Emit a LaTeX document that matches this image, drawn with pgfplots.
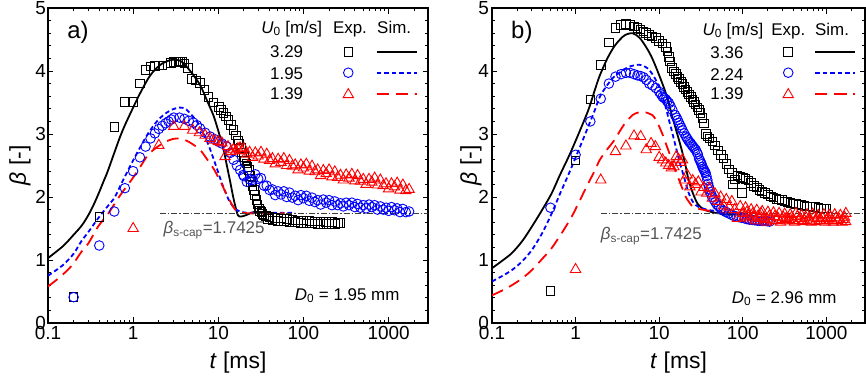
\documentclass[border=0pt]{standalone}
\usepackage{fontspec}
\setmainfont{Liberation Sans}
\usepackage{pgfplots}
\pgfplotsset{compat=1.18}

\definecolor{myblue}{RGB}{0,0,255}
\definecolor{myred}{RGB}{255,0,0}
\definecolor{dashgray}{RGB}{60,60,60}
\definecolor{capgray}{RGB}{85,85,85}
\newcommand{\legfont}{\fontsize{17}{20}\selectfont}

\pgfplotsset{
 myexpsq/.style={only marks, mark=square, mark size=4.3bp, black, line width=0.9bp},
 myexpci/.style={only marks, mark=o, mark size=4.8bp, myblue, line width=0.9bp},
 myexptr/.style={only marks, mark=triangle, mark size=6bp, myred, line width=0.9bp},
 mysimk/.style={black, line width=1.8bp, no marks, smooth},
 mysimb/.style={myblue, line width=1.8bp, dash pattern=on 4.5bp off 3bp, no marks, smooth},
 mysimr/.style={myred, line width=1.8bp, dash pattern=on 12bp off 7bp, no marks, smooth},
 mycapline/.style={dashgray, line width=1bp, dash pattern=on 6bp off 2bp on 1.5bp off 2bp, no marks},
}

\begin{document}
\begin{tikzpicture}
\path[use as bounding box] (0,0) rectangle (866bp,376bp);

% ---------------- panel a ----------------
\begin{axis}[at={(48bp,53bp)}, anchor=south west, width=380bp,
   scale only axis, height=315bp,
   xmode=log, xmin=0.1, xmax=2900, ymin=0, ymax=5,
   xtick={0.1,1,10,100,1000}, xticklabels={0.1,1,10,100,1000},
   minor xtick={0.2,0.3,0.4,0.5,0.6,0.7,0.8,0.9,2,3,4,5,6,7,8,9,20,30,40,50,60,70,80,90,200,300,400,500,600,700,800,900,2000},
   ytick={0,1,2,3,4,5}, minor y tick num=4,
   tick align=inside, major tick length=5.5bp, minor tick length=3bp,
   axis line style={line width=1.2bp},
   every tick/.append style={line width=0.9bp, black},
   tick label style={font=\fontsize{19}{22}\selectfont},
   yticklabel style={/pgf/number format/assume math mode=true, inner xsep=2bp},
   xlabel={\textit{t} [ms]}, ylabel={\textit{β} [-]},
   label style={font=\fontsize{23}{27}\selectfont},
   xlabel style={at={(axis description cs:0.5,0)}, anchor=base, yshift=-45bp},
   ylabel style={at={([xshift=-28bp]axis description cs:0,0.5)}, anchor=center}]

\addplot[myexpsq] coordinates {(0.2,0.41)(0.4,1.68)(0.6,3.11)(0.8,3.51)(1.0,3.51)(1.2,3.80)(1.4,4.02)(1.6,4.07)(1.8,4.08)(2.0,4.09)(2.2,4.09)(2.8,4.13)(3.0,4.14)(3.2,4.14)(3.4,4.15)(3.6,4.15)(3.8,4.14)(4.0,4.12)(4.4,4.05)(4.9,3.87)(5.5,3.85)(6.1,3.81)(6.9,3.70)(7.7,3.59)(8.8,3.50)(10.1,3.43)(10.8,3.38)(11.5,3.33)(12.3,3.28)(13.2,3.22)(14.1,3.14)(15.1,3.06)(16,2.98)(16.9,2.90)(17.6,2.84)(18.4,2.78)(19.1,2.71)(19.9,2.64)(20.6,2.58)(21.3,2.53)(22,2.48)(22.8,2.43)(23.5,2.33)(24.3,2.24)(25.1,2.18)(26,2.11)(27,2.03)(28,1.95)(28.9,1.88)(29.8,1.82)(31,1.78)(32,1.76)(33,1.73)(34.1,1.71)(36,1.70)(38,1.65)(40,1.68)(43.2,1.63)(46.6,1.67)(50.4,1.62)(54.4,1.66)(58.8,1.61)(63.5,1.65)(68.5,1.60)(74,1.64)(80,1.60)(86.4,1.63)(93.3,1.59)(100,1.63)(108,1.58)(117,1.62)(126,1.58)(136,1.61)(147,1.57)(159,1.61)(171,1.57)(185,1.60)(200,1.57)(216,1.60)(233,1.57)(252,1.59)(272,1.59)};

\addplot[myexpci] coordinates {(0.2,0.41)(0.4,1.23)(0.6,1.77)(0.8,2.14)(1.0,2.41)(1.2,2.63)(1.4,2.80)(1.6,2.93)(1.8,3.01)(2.0,3.08)(2.2,3.13)(2.4,3.17)(2.6,3.20)(2.8,3.23)(3.0,3.26)(3.5,3.26)(4.0,3.24)(4.5,3.21)(5.1,3.18)(5.6,3.14)(6.1,3.09)(7,3.02)(8,2.96)(9,2.92)(10,2.88)(11,2.85)(12.6,2.80)(13.8,2.70)(15.1,2.59)(16.5,2.50)(18,2.43)(19.6,2.35)(20,2.33)(21.6,2.24)(23.3,2.28)(25.2,2.27)(27.2,2.36)(29.4,2.29)(31.7,2.30)(34.3,2.18)(37,2.18)(40,2.11)(43.2,2.12)(46.6,2.03)(50.4,2.09)(54.4,2.04)(58.8,2.09)(63.5,2.00)(68.5,2.07)(74,1.99)(80,2.02)(86.4,1.95)(93.3,2.03)(100,1.98)(108,2.02)(117,1.94)(126,1.99)(136,1.92)(147,1.95)(159,1.88)(171,1.96)(185,1.91)(200,1.95)(216,1.87)(233,1.93)(252,1.87)(272,1.90)(294,1.85)(317,1.91)(343,1.87)(370,1.91)(400,1.84)(432,1.89)(466,1.83)(504,1.87)(544,1.82)(588,1.88)(635,1.84)(685,1.87)(740,1.80)(800,1.85)(864,1.80)(933,1.83)(1000,1.78)(1080,1.84)(1170,1.79)(1260,1.82)(1360,1.76)(1470,1.81)(1590,1.76)(1740,1.77)};

\addplot[myexptr] coordinates {(1,1.50)(2,2.82)(3,3.12)(4,3.12)(5,3.06)(6,3.02)(7,2.98)(8,2.93)(9,2.90)(10,2.88)(11,2.86)(12,2.64)(13,2.80)(14,2.72)(15,2.75)(16,2.73)(17,2.77)(18,2.78)(19,2.74)(20,2.77)(21.6,2.68)(23.3,2.71)(25.2,2.63)(27.2,2.70)(29.4,2.65)(31.7,2.71)(34.3,2.60)(37,2.68)(40,2.58)(43.2,2.61)(46.6,2.525)(50.4,2.60)(54.4,2.55)(58.8,2.61)(63.5,2.50)(68.5,2.58)(74,2.49)(80,2.51)(86.4,2.43)(93.3,2.51)(100,2.46)(108,2.52)(117,2.41)(126,2.49)(136,2.40)(147,2.43)(159,2.34)(171,2.42)(185,2.37)(200,2.43)(216,2.32)(233,2.40)(252,2.31)(272,2.345)(294,2.27)(317,2.35)(343,2.30)(370,2.36)(400,2.255)(432,2.34)(466,2.25)(504,2.28)(544,2.20)(588,2.28)(635,2.235)(685,2.30)(740,2.19)(800,2.27)(864,2.18)(933,2.21)(1000,2.13)(1080,2.21)(1170,2.16)(1260,2.22)(1360,2.11)(1470,2.19)(1590,2.10)(1740,2.12)};

\addplot[mysimk] coordinates {(0.1,1.03)(0.15,1.22)(0.2,1.40)(0.25,1.55)(0.3,1.72)(0.35,1.90)(0.4,2.08)(0.45,2.25)(0.5,2.40)(0.6,2.70)(0.7,2.95)(0.8,3.14)(1.0,3.42)(1.2,3.64)(1.5,3.88)(1.8,4.02)(2.2,4.12)(2.7,4.17)(3.2,4.18)(3.7,4.15)(4.3,4.06)(5,3.95)(6.1,3.78)(7,3.60)(8,3.42)(8.8,3.29)(10,3.05)(11.5,2.76)(12.6,2.50)(13.8,2.24)(14.8,2.03)(15.8,1.86)(17,1.71)(18.5,1.69)(21,1.71)(26,1.76)(32,1.76)(40,1.75)};

\addplot[mysimb] coordinates {(0.1,0.75)(0.15,0.92)(0.2,1.10)(0.247,1.30)(0.3,1.45)(0.387,1.66)(0.5,1.85)(0.61,2.0)(0.75,2.25)(0.955,2.53)(1.2,2.78)(1.5,3.01)(1.9,3.20)(2.36,3.32)(2.9,3.39)(3.5,3.42)(4.1,3.40)(4.8,3.31)(5.6,3.20)(6.4,3.06)(7.3,2.90)(8.2,2.72)(9.2,2.53)(10.1,2.37)(11,2.22)(12.1,2.08)(13.3,1.95)(14.5,1.87)(15.8,1.81)(18,1.77)(21.5,1.75)(30,1.75)(50,1.75)(80,1.75)};

\addplot[mysimr] coordinates {(0.1,0.58)(0.13,0.70)(0.17,0.84)(0.2,0.95)(0.247,1.13)(0.3,1.27)(0.387,1.53)(0.5,1.72)(0.61,1.90)(0.75,2.08)(0.955,2.27)(1.2,2.47)(1.5,2.67)(1.9,2.79)(2.36,2.87)(2.9,2.92)(3.6,2.93)(4.3,2.89)(5.1,2.83)(6.1,2.75)(7.2,2.62)(8.8,2.45)(10,2.31)(11,2.20)(12.3,2.06)(13.8,1.93)(15.2,1.83)(16.6,1.77)(19,1.75)(25,1.74)(40,1.74)(60,1.74)};

\addplot[mycapline] coordinates {(2.04,1.7425)(2900,1.7425)};

% legend keys, plotted through the axis
\addplot[myexpsq] coordinates {(336,4.306)};
\addplot[myexpci] coordinates {(336,3.973)};
\addplot[myexptr] coordinates {(336,3.625)};
\addplot[mysimk] coordinates {(725,4.306)(2136,4.306)};
\addplot[mysimb] coordinates {(725,3.973)(2136,3.973)};
\addplot[mysimr] coordinates {(725,3.635)(2136,3.635)};
\node[font=\legfont, anchor=base, inner sep=0pt] at (axis cs:72.7,4.603) {\textit{U}\textsubscript{0} [m/s]};
\node[font=\legfont, anchor=base, inner sep=0pt] at (axis cs:351.6,4.603) {Exp.};
\node[font=\legfont, anchor=base, inner sep=0pt] at (axis cs:1161,4.603) {Sim.};
\node[font=\legfont, anchor=base, inner sep=0pt] at (axis cs:63.5,4.222) {3.29};
\node[font=\legfont, anchor=base, inner sep=0pt] at (axis cs:63.5,3.873) {1.95};
\node[font=\legfont, anchor=base, inner sep=0pt] at (axis cs:63.5,3.540) {1.39};

\node[font=\fontsize{24}{28}\selectfont, anchor=center] at (axis description cs:0.079,0.924) {a)};
\node[font=\legfont, anchor=base east] at (axis description cs:0.934,0.073) {\textit{D}\textsubscript{0} = 1.95 mm};
\node[font=\legfont, text=capgray, anchor=base west, inner sep=0pt] at (axis cs:2.27,1.42) {\textit{β}\textsubscript{s-cap}=1.7425};
\end{axis}

% ---------------- panel b ----------------
\begin{axis}[at={(492bp,53bp)}, anchor=south west, width=373bp,
   scale only axis, height=315bp,
   xmode=log, xmin=0.1, xmax=2900, ymin=0, ymax=5,
   xtick={0.1,1,10,100,1000}, xticklabels={0.1,1,10,100,1000},
   minor xtick={0.2,0.3,0.4,0.5,0.6,0.7,0.8,0.9,2,3,4,5,6,7,8,9,20,30,40,50,60,70,80,90,200,300,400,500,600,700,800,900,2000},
   ytick={0,1,2,3,4,5}, minor y tick num=4,
   tick align=inside, major tick length=5.5bp, minor tick length=3bp,
   axis line style={line width=1.2bp},
   every tick/.append style={line width=0.9bp, black},
   tick label style={font=\fontsize{19}{22}\selectfont},
   yticklabel style={/pgf/number format/assume math mode=true, inner xsep=3bp},
   xlabel={\textit{t} [ms]}, ylabel={\textit{β} [-]},
   label style={font=\fontsize{23}{27}\selectfont},
   xlabel style={at={(axis description cs:0.5,0)}, anchor=base, yshift=-45bp},
   ylabel style={at={([xshift=-21bp]axis description cs:0,0.5)}, anchor=center}]

\addplot[myexpsq] coordinates {(0.5,0.51)(1.0,2.58)(1.5,3.55)(2.0,4.10)(2.5,4.45)(3.0,4.68)(3.5,4.73)(4.0,4.75)(4.5,4.73)(5.0,4.71)(5.5,4.68)(6,4.66)(6.5,4.63)(7,4.60)(7.6,4.57)(8.2,4.55)(9.1,4.52)(10,4.48)(11,4.44)(12,4.38)(12.6,4.31)(13.1,4.22)(13.5,4.15)(14.3,4.05)(15.1,3.99)(15.8,3.95)(16.5,3.91)(17.3,3.87)(18.1,3.83)(19,3.79)(19.8,3.75)(20.7,3.71)(21.7,3.67)(22.7,3.63)(23.8,3.59)(25,3.55)(26.1,3.51)(27.3,3.47)(28.6,3.42)(30,3.38)(31.3,3.33)(32.8,3.25)(34.4,3.17)(36,3.0)(37.6,2.96)(40,2.93)(43.2,2.88)(46.6,2.82)(50.4,2.74)(54.4,2.67)(58.8,2.61)(63.5,2.52)(68.5,2.44)(74,2.38)(76,2.20)(80,2.28)(86.4,2.34)(93.3,2.32)(98,2.06)(100,2.30)(108,2.29)(117,2.26)(126,2.22)(136,2.18)(147,2.15)(159,2.11)(171,2.09)(185,2.06)(200,2.04)(216,2.01)(233,1.99)(252,1.97)(272,1.96)(294,1.95)(317,1.93)(343,1.92)(370,1.91)(400,1.90)(432,1.89)(466,1.88)(504,1.87)(544,1.86)(588,1.85)(635,1.85)(685,1.84)(740,1.84)(800,1.83)(864,1.82)(933,1.82)(1000,1.82)};

\addplot[myexpci] coordinates {(0.5,1.83)(1.0,2.67)(1.5,3.20)(2.0,3.56)(2.5,3.80)(3.0,3.91)(3.5,3.95)(4.0,3.97)(4.5,3.97)(5.0,3.95)(5.5,3.93)(6,3.92)(6.5,3.90)(7,3.86)(7.6,3.80)(8.3,3.77)(9.1,3.73)(10,3.67)(10.5,3.63)(11,3.59)(11.5,3.57)(12,3.55)(12.5,3.52)(13.1,3.49)(13.7,3.44)(14.4,3.38)(15.5,3.30)(16.1,3.26)(16.7,3.22)(17.2,3.18)(17.8,3.14)(18.4,3.10)(19,3.06)(19.9,3.01)(20.9,2.96)(21.6,2.93)(22.3,2.90)(23.1,2.87)(23.9,2.85)(24.7,2.82)(25.5,2.80)(26.4,2.77)(27.4,2.75)(28.2,2.71)(29,2.68)(30,2.61)(30.7,2.58)(31.5,2.55)(32.2,2.52)(32.9,2.48)(33.7,2.45)(34.5,2.43)(35.2,2.40)(36,2.38)(36.8,2.33)(37.7,2.27)(38.5,2.21)(39.4,2.16)(40.2,2.12)(41,2.08)(42,2.04)(43.2,2.0)(45,1.96)(47,1.92)(49,1.88)(51.7,1.85)(55,1.81)(59,1.78)(63,1.76)(68,1.74)(73,1.72)(78,1.70)(84,1.69)(90,1.68)(97,1.67)(105,1.66)(112,1.65)(120,1.64)(130,1.635)(140,1.63)(150,1.625)(160,1.62)(172,1.62)(185,1.62)(197,1.615)(210,1.61)};

\addplot[myexptr] coordinates {(1.0,0.85)(2.0,2.27)(3.0,2.72)(4.0,2.81)(5.0,2.97)(6.0,2.96)(7.0,2.75)(8.0,2.85)(9.0,2.80)(10,2.63)(11,2.59)(12,2.54)(13,2.50)(14,2.46)(15,2.48)(16,2.64)(17,2.60)(18,2.55)(19,2.59)(20,2.27)(21.6,2.35)(23.3,2.16)(25.2,2.26)(27.2,2.20)(29.4,2.24)(31.7,2.08)(34.3,2.15)(37,2.06)(40,2.14)(43.2,1.98)(46.6,2.05)(50.4,1.93)(54.4,2.00)(58.8,1.86)(63.5,1.96)(68.5,1.84)(74,1.93)(80,1.80)(86.4,1.66)(93.3,1.85)(100,1.74)(104,1.68)(108,1.83)(112,1.76)(117,1.70)(121,1.65)(126,1.80)(131,1.73)(136,1.68)(141,1.62)(147,1.79)(153,1.70)(159,1.66)(165,1.74)(171,1.77)(178,1.67)(185,1.64)(192,1.60)(200,1.76)(208,1.70)(216,1.65)(224,1.62)(233,1.75)(242,1.69)(252,1.63)(262,1.67)(272,1.74)(283,1.60)(294,1.64)(305,1.68)(317,1.73)(330,1.66)(343,1.62)(356,1.64)(370,1.72)(385,1.68)(400,1.63)(416,1.60)(432,1.74)(449,1.69)(466,1.62)(485,1.66)(504,1.71)(524,1.61)(544,1.63)(566,1.68)(588,1.72)(611,1.65)(635,1.62)(660,1.60)(685,1.73)(712,1.68)(740,1.61)(770,1.66)(800,1.71)(832,1.63)(864,1.62)(898,1.67)(933,1.72)(966,1.60)(1000,1.63)(1040,1.66)(1080,1.71)(1125,1.68)(1170,1.62)(1215,1.60)(1260,1.72)(1310,1.67)(1360,1.63)(1415,1.65)(1470,1.71)(1530,1.60)(1590,1.64)(1650,1.68)(1700,1.61)(1710,1.74)};

\addplot[mysimk] coordinates {(0.1,0.87)(0.13,0.98)(0.173,1.11)(0.23,1.30)(0.3,1.53)(0.4,1.80)(0.518,2.06)(0.65,2.35)(0.8,2.60)(0.9,2.75)(1.1,3.02)(1.42,3.38)(1.7,3.70)(1.95,3.93)(2.4,4.20)(2.9,4.39)(3.4,4.50)(3.9,4.57)(4.8,4.60)(5.8,4.53)(6.9,4.39)(8,4.24)(9.1,4.07)(10.5,3.86)(12,3.65)(13.2,3.46)(14.4,3.27)(15.8,3.08)(17.3,2.90)(19,2.70)(20.8,2.48)(22.2,2.30)(23.8,2.16)(26,2.02)(28.6,1.90)(32,1.83)(36,1.79)(43,1.76)(52,1.74)(70,1.72)(100,1.73)};

\addplot[mysimb] coordinates {(0.1,0.66)(0.13,0.74)(0.173,0.84)(0.23,0.98)(0.3,1.16)(0.4,1.43)(0.518,1.74)(0.65,2.05)(0.8,2.32)(0.9,2.48)(1.1,2.76)(1.42,3.12)(1.7,3.38)(1.95,3.59)(2.4,3.78)(2.9,3.91)(3.6,4.00)(4.4,4.07)(5.7,4.10)(6.5,4.08)(7.3,4.04)(8.2,3.96)(9.1,3.86)(10,3.74)(11,3.59)(12,3.42)(13.1,3.22)(14.1,3.06)(15.1,2.90)(16.2,2.74)(17.3,2.59)(18.5,2.45)(19.8,2.32)(21.2,2.18)(22.6,2.06)(24.2,1.97)(26,1.90)(29,1.85)(32.9,1.82)(40,1.79)(47,1.78)(60,1.76)(80,1.75)(100,1.75)};

\addplot[mysimr] coordinates {(0.1,0.44)(0.13,0.51)(0.173,0.60)(0.23,0.71)(0.3,0.84)(0.4,1.02)(0.518,1.19)(0.7,1.45)(0.9,1.69)(1.1,1.92)(1.42,2.22)(1.7,2.42)(1.95,2.59)(2.4,2.76)(2.9,2.90)(3.4,3.05)(3.9,3.17)(4.8,3.30)(5.6,3.34)(6.5,3.35)(7.4,3.33)(8.3,3.30)(9.2,3.22)(10,3.12)(11,2.99)(12,2.85)(13.2,2.70)(14.4,2.54)(15.8,2.40)(17.3,2.27)(19,2.13)(20.8,2.0)(22.8,1.92)(25,1.85)(28,1.82)(33,1.80)(40,1.78)(50,1.76)(70,1.75)(100,1.75)};

\addplot[mycapline] coordinates {(2.0,1.7425)(2900,1.7425)};

% legend keys, plotted through the axis
\addplot[myexpsq] coordinates {(350,4.306)};
\addplot[myexpci] coordinates {(350,3.973)};
\addplot[myexptr] coordinates {(350,3.625)};
\addplot[mysimk] coordinates {(740,4.306)(2201,4.306)};
\addplot[mysimb] coordinates {(740,3.973)(2201,3.973)};
\addplot[mysimr] coordinates {(740,3.635)(2201,3.635)};
\node[font=\legfont, anchor=base, inner sep=0pt] at (axis cs:76.4,4.571) {\textit{U}\textsubscript{0} [m/s]};
\node[font=\legfont, anchor=base, inner sep=0pt] at (axis cs:350.8,4.571) {Exp.};
\node[font=\legfont, anchor=base, inner sep=0pt] at (axis cs:1170,4.571) {Sim.};
\node[font=\legfont, anchor=base, inner sep=0pt] at (axis cs:64.7,4.206) {3.36};
\node[font=\legfont, anchor=base, inner sep=0pt] at (axis cs:64.7,3.857) {2.24};
\node[font=\legfont, anchor=base, inner sep=0pt] at (axis cs:64.7,3.540) {1.39};

\node[font=\fontsize{24}{28}\selectfont, anchor=center] at (axis description cs:0.080,0.924) {b)};
\node[font=\legfont, anchor=base east] at (axis description cs:0.933,0.063) {\textit{D}\textsubscript{0} = 2.96 mm};
\node[font=\legfont, text=capgray, anchor=base west, inner sep=0pt] at (axis cs:2.0,1.32) {\textit{β}\textsubscript{s-cap}=1.7425};
\end{axis}
\end{tikzpicture}
\end{document}
